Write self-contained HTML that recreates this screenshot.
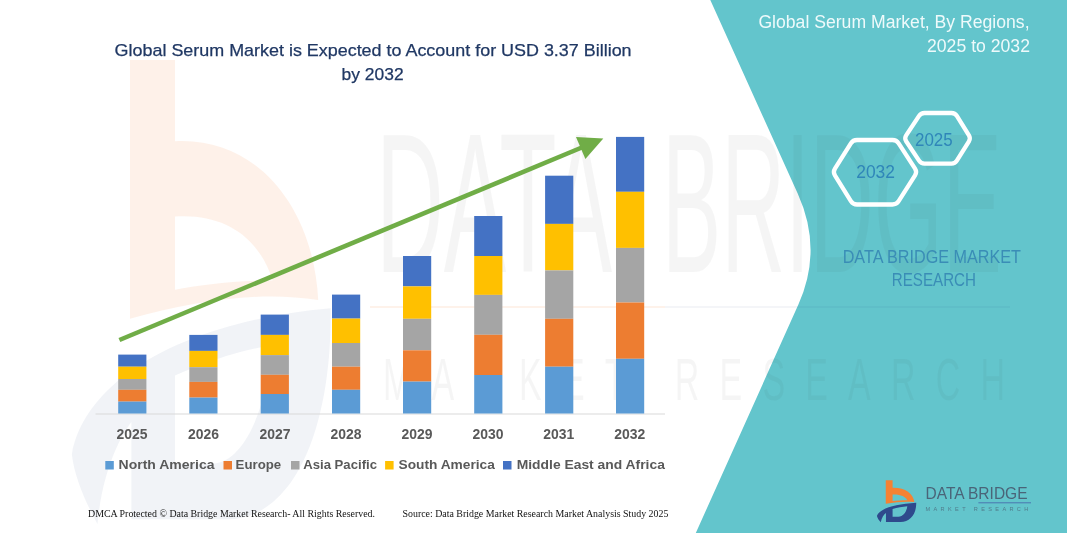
<!DOCTYPE html>
<html lang="en"><head><meta charset="utf-8"><title>Global Serum Market</title>
<style>
html,body{margin:0;padding:0;background:#fff;}
body{width:1067px;height:533px;overflow:hidden;position:relative;}
svg{position:absolute;left:0;top:0;display:block;}
text{font-family:"Liberation Sans",sans-serif;}
.ttl{font-size:17px;fill:#203864;stroke:#203864;stroke-width:0.25px;}
.rt{font-size:18px;fill:#eefafb;}
.hx{font-size:18px;fill:#2f86b9;}
.db{font-size:17.5px;fill:#3a8db6;}
.yr{font-size:14px;font-weight:bold;fill:#595959;}
.lg{font-size:13.5px;font-weight:bold;fill:#595959;}
.ft{font-family:"Liberation Serif",serif;font-size:9.5px;fill:#111;}
</style></head>
<body>
<svg width="1067" height="533" viewBox="0 0 1067 533">
<defs>
<g id="logo">
  <!-- drawn on a 533-grid (zoom 9.518x) ; origin of grid = (870,474) -->
  <g id="lo"><path d="M150,60 H215 V130 C330,126 415,185 422,267 C340,259 250,267 150,283 Z M215,195 C290,192 338,215 356,250 C300,250 250,254 215,258 Z" fill="#F58233" fill-rule="evenodd"/></g>
  <g id="ln"><path d="M66,400 C85,335 230,285 440,274 C442,380 385,456 290,456 H152 V372 C135,385 110,415 103,460 C85,440 70,420 66,400 Z M215,332 C260,320 310,310 355,306 C350,352 320,406 270,408 H215 Z" fill="#2E4A8C" fill-rule="evenodd"/></g>
</g>
</defs>
<rect width="1067" height="533" fill="#ffffff"/>

<!-- watermark -->
<g transform="translate(26.2,-9.6) scale(0.692,1.16)">
  <use href="#lo" opacity="0.11"/>
  <use href="#ln" opacity="0.065"/>
</g>


<!-- teal panel -->
<path d="M710.3,0 L797.8,193.7 Q823,249.3 798.5,304.3 L695.8,533 L1067,533 L1067,0 Z" fill="#63C5CC"/>


<g opacity="0.045" fill="#333">
  <text x="376" y="0" font-size="120" textLength="236" lengthAdjust="spacingAndGlyphs" transform="translate(0,272) scale(1,1.66)">DATA</text>
  <text x="662" y="0" font-size="120" textLength="340" lengthAdjust="spacingAndGlyphs" transform="translate(0,272) scale(1,1.66)">BRIDGE</text>
  <text x="383" y="0" font-size="34" textLength="622" lengthAdjust="spacing" transform="translate(0,400) scale(1,1.75)">MARKET RESEARCH</text>
  <rect x="665" y="306" width="345" height="2" fill="#1d3c78"/>
</g>
<rect x="370" y="306" width="295" height="2" fill="#F58233" opacity="0.10"/>

<!-- chart -->
<line x1="95.5" y1="414" x2="665" y2="414" stroke="#D9D9D9" stroke-width="1"/>
<rect x="118.2" y="354.6" width="28.2" height="12.1" fill="#4472C4"/>
<rect x="118.2" y="366.7" width="28.2" height="12.3" fill="#FFC000"/>
<rect x="118.2" y="379" width="28.2" height="10.8" fill="#A5A5A5"/>
<rect x="118.2" y="389.8" width="28.2" height="11.8" fill="#ED7D31"/>
<rect x="118.2" y="401.6" width="28.2" height="11.9" fill="#5B9BD5"/>
<rect x="189.3" y="334.9" width="28.2" height="16.0" fill="#4472C4"/>
<rect x="189.3" y="350.9" width="28.2" height="16.3" fill="#FFC000"/>
<rect x="189.3" y="367.2" width="28.2" height="14.7" fill="#A5A5A5"/>
<rect x="189.3" y="381.9" width="28.2" height="15.7" fill="#ED7D31"/>
<rect x="189.3" y="397.6" width="28.2" height="15.9" fill="#5B9BD5"/>
<rect x="260.7" y="314.6" width="28.2" height="20.3" fill="#4472C4"/>
<rect x="260.7" y="334.9" width="28.2" height="20.2" fill="#FFC000"/>
<rect x="260.7" y="355.1" width="28.2" height="19.7" fill="#A5A5A5"/>
<rect x="260.7" y="374.8" width="28.2" height="19.2" fill="#ED7D31"/>
<rect x="260.7" y="394" width="28.2" height="19.5" fill="#5B9BD5"/>
<rect x="332" y="294.6" width="28.2" height="24.0" fill="#4472C4"/>
<rect x="332" y="318.6" width="28.2" height="24.4" fill="#FFC000"/>
<rect x="332" y="343" width="28.2" height="23.7" fill="#A5A5A5"/>
<rect x="332" y="366.7" width="28.2" height="23.1" fill="#ED7D31"/>
<rect x="332" y="389.8" width="28.2" height="23.7" fill="#5B9BD5"/>
<rect x="403" y="256" width="28.2" height="30.4" fill="#4472C4"/>
<rect x="403" y="286.4" width="28.2" height="32.4" fill="#FFC000"/>
<rect x="403" y="318.8" width="28.2" height="31.5" fill="#A5A5A5"/>
<rect x="403" y="350.3" width="28.2" height="31.3" fill="#ED7D31"/>
<rect x="403" y="381.6" width="28.2" height="31.9" fill="#5B9BD5"/>
<rect x="474.2" y="216" width="28.2" height="40.0" fill="#4472C4"/>
<rect x="474.2" y="256" width="28.2" height="38.9" fill="#FFC000"/>
<rect x="474.2" y="294.9" width="28.2" height="39.9" fill="#A5A5A5"/>
<rect x="474.2" y="334.8" width="28.2" height="40.2" fill="#ED7D31"/>
<rect x="474.2" y="375" width="28.2" height="38.5" fill="#5B9BD5"/>
<rect x="545.1" y="175.7" width="28.2" height="48.2" fill="#4472C4"/>
<rect x="545.1" y="223.9" width="28.2" height="46.5" fill="#FFC000"/>
<rect x="545.1" y="270.4" width="28.2" height="48.4" fill="#A5A5A5"/>
<rect x="545.1" y="318.8" width="28.2" height="47.9" fill="#ED7D31"/>
<rect x="545.1" y="366.7" width="28.2" height="46.8" fill="#5B9BD5"/>
<rect x="616" y="136.9" width="28.2" height="54.9" fill="#4472C4"/>
<rect x="616" y="191.8" width="28.2" height="56.1" fill="#FFC000"/>
<rect x="616" y="247.9" width="28.2" height="54.6" fill="#A5A5A5"/>
<rect x="616" y="302.5" width="28.2" height="56.3" fill="#ED7D31"/>
<rect x="616" y="358.8" width="28.2" height="54.7" fill="#5B9BD5"/>
<!-- arrow -->
<line x1="119.4" y1="340" x2="583" y2="147" stroke="#70AD47" stroke-width="4.6"/>
<polygon points="603.3,138.6 576,136.9 585.4,159.1" fill="#70AD47"/>

<text x="132" y="439" text-anchor="middle" class="yr" textLength="31" lengthAdjust="spacingAndGlyphs">2025</text>
<text x="203.5" y="439" text-anchor="middle" class="yr" textLength="31" lengthAdjust="spacingAndGlyphs">2026</text>
<text x="275" y="439" text-anchor="middle" class="yr" textLength="31" lengthAdjust="spacingAndGlyphs">2027</text>
<text x="346" y="439" text-anchor="middle" class="yr" textLength="31" lengthAdjust="spacingAndGlyphs">2028</text>
<text x="417" y="439" text-anchor="middle" class="yr" textLength="31" lengthAdjust="spacingAndGlyphs">2029</text>
<text x="488" y="439" text-anchor="middle" class="yr" textLength="31" lengthAdjust="spacingAndGlyphs">2030</text>
<text x="558.8" y="439" text-anchor="middle" class="yr" textLength="31" lengthAdjust="spacingAndGlyphs">2031</text>
<text x="629.7" y="439" text-anchor="middle" class="yr" textLength="31" lengthAdjust="spacingAndGlyphs">2032</text>

<rect x="105.3" y="461" width="8.5" height="8.5" fill="#5B9BD5"/><text x="118.6" y="468.8" class="lg" textLength="95.9" lengthAdjust="spacingAndGlyphs">North America</text>
<rect x="223.5" y="461" width="8.5" height="8.5" fill="#ED7D31"/><text x="235.6" y="468.8" class="lg" textLength="45.6" lengthAdjust="spacingAndGlyphs">Europe</text>
<rect x="291" y="461" width="8.5" height="8.5" fill="#A5A5A5"/><text x="303.2" y="468.8" class="lg" textLength="73.8" lengthAdjust="spacingAndGlyphs">Asia Pacific</text>
<rect x="385.1" y="461" width="8.5" height="8.5" fill="#FFC000"/><text x="398.5" y="468.8" class="lg" textLength="96.4" lengthAdjust="spacingAndGlyphs">South America</text>
<rect x="503" y="461" width="8.5" height="8.5" fill="#4472C4"/><text x="516.7" y="468.8" class="lg" textLength="148.2" lengthAdjust="spacingAndGlyphs">Middle East and Africa</text>


<!-- titles -->
<text x="114.6" y="56" class="ttl" textLength="517" lengthAdjust="spacingAndGlyphs">Global Serum Market is Expected to Account for USD 3.37 Billion</text>
<text x="341.6" y="80" class="ttl" textLength="62" lengthAdjust="spacingAndGlyphs">by 2032</text>

<text x="758.4" y="28.2" class="rt" textLength="271.2" lengthAdjust="spacingAndGlyphs">Global Serum Market, By Regions,</text>
<text x="927" y="51.5" class="rt" textLength="103" lengthAdjust="spacingAndGlyphs">2025 to 2032</text>

<!-- hexagons -->
<path d="M834.91,175.40 Q832.80,172.00 834.94,168.62 L850.86,143.38 Q853.00,140.00 857.00,140.00 L892.50,140.00 Q896.50,140.00 898.67,143.36 L915.03,168.64 Q917.20,172.00 915.05,175.37 L898.65,201.13 Q896.50,204.50 892.50,204.50 L857.00,204.50 Q853.00,204.50 850.89,201.10 Z" fill="none" stroke="#fff" stroke-width="4.3" stroke-linejoin="round"/>
<path d="M906.14,141.22 Q904.20,138.30 906.14,135.38 L919.06,115.92 Q921.00,113.00 924.50,113.00 L951.50,113.00 Q955.00,113.00 956.85,115.97 L968.95,135.33 Q970.80,138.30 968.95,141.27 L956.85,160.63 Q955.00,163.60 951.50,163.60 L924.50,163.60 Q921.00,163.60 919.06,160.68 Z" fill="none" stroke="#fff" stroke-width="4.3" stroke-linejoin="round"/>
<text x="856.2" y="177.7" class="hx" textLength="38.8" lengthAdjust="spacingAndGlyphs">2032</text>
<text x="915" y="146" class="hx" textLength="37.7" lengthAdjust="spacingAndGlyphs">2025</text>

<text x="842.7" y="262.6" class="db" textLength="178.3" lengthAdjust="spacingAndGlyphs">DATA BRIDGE MARKET</text>
<text x="891.8" y="286.3" class="db" textLength="84.2" lengthAdjust="spacingAndGlyphs">RESEARCH</text>

<!-- footer -->
<text x="88" y="517.4" class="ft" textLength="287" lengthAdjust="spacingAndGlyphs">DMCA Protected © Data Bridge Market Research-  All Rights Reserved.</text>
<text x="402.5" y="517.4" class="ft" textLength="265.9" lengthAdjust="spacingAndGlyphs">Source: Data Bridge Market Research  Market Analysis Study 2025</text>

<!-- logo -->
<use href="#logo" transform="translate(870,474) scale(0.10507)"/>
<text x="925.5" y="499.4" font-size="16.8" fill="#4a6478" textLength="102" lengthAdjust="spacingAndGlyphs">DATA BRIDGE</text>
<line x1="978.4" y1="502.8" x2="1031" y2="502.8" stroke="#4a76b0" stroke-width="1"/>
<text x="925.5" y="511.4" font-size="5.6" fill="#4a6478" opacity="0.75" textLength="102.8" lengthAdjust="spacing">MARKET RESEARCH</text>
</svg>
</body></html>
